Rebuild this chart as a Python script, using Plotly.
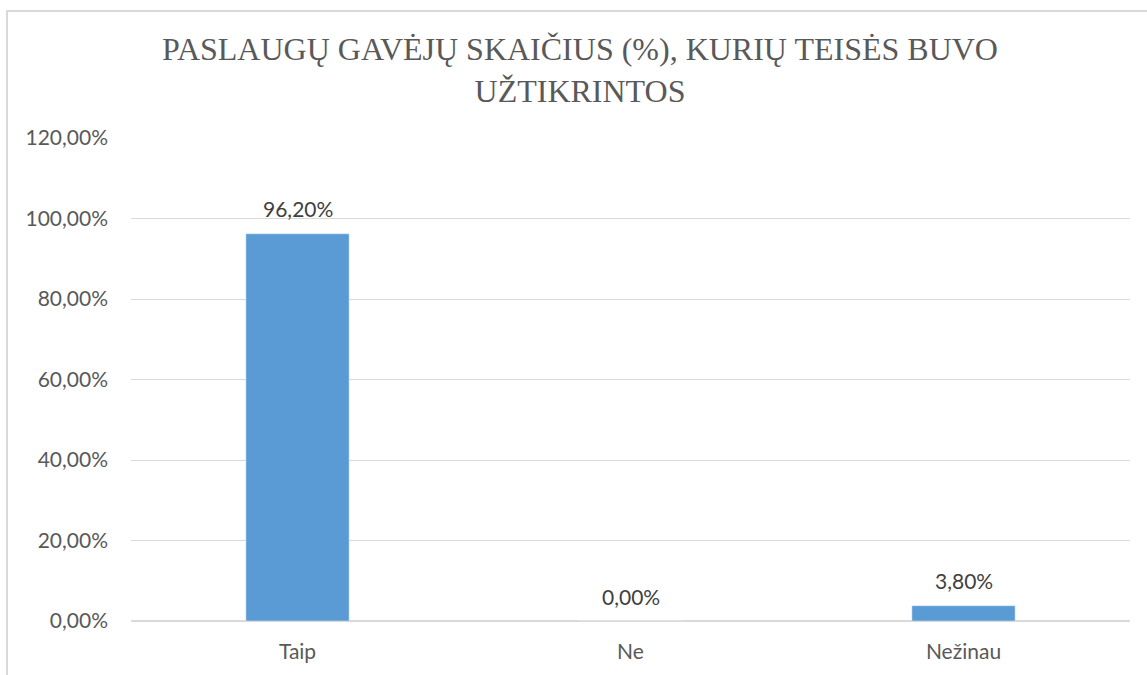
import plotly.graph_objects as go

categories = ["Taip", "Ne", "Nežinau"]
values = [0.962, 0.0, 0.038]
title_text = "PASLAUGŲ GAVĖJŲ SKAIČIUS (%), KURIŲ TEISĖS BUVO<br>UŽTIKRINTOS"

W, H = 1147, 675
L, R, T, B = 131, 17, 138, 54
pw, ph = W - L - R, H - T - B
SANS = "Lato, Open Sans, Liberation Sans, sans-serif"

fig = go.Figure()
fig.add_trace(go.Bar(
    x=categories, y=values,
    marker=dict(color="#5B9BD5"),
    hoverinfo="skip",
))

for c, v in zip(categories, values):
    fig.add_annotation(x=c, y=v, xref="x", yref="y", text=f"{v * 100:.2f}%".replace(".", ","),
                       showarrow=False, yanchor="middle", yshift=25,
                       font=dict(family=SANS, size=21, color="#404040"))

fig.update_layout(
    width=W, height=H,
    margin=dict(l=L, r=R, t=T, b=B, pad=0),
    paper_bgcolor="white", plot_bgcolor="white",
    separators=", ",
    bargap=0.69,
    showlegend=False,
    title=dict(text=title_text, x=580 / W, xanchor="center", y=1 - 60 / H, yanchor="top",
               font=dict(family="Liberation Serif, Times New Roman, serif", size=32, color="#595959")),
    xaxis=dict(showgrid=False, showline=False, ticks="", ticklabelstandoff=16,
               tickfont=dict(family=SANS, size=21, color="#595959")),
    yaxis=dict(range=[0, 1.2], dtick=0.2, tickformat=".2%", showgrid=True, gridcolor="#D9D9D9",
               gridwidth=1, zeroline=True, zerolinecolor="#D9D9D9", zerolinewidth=1.5, showline=False,
               ticks="", ticklabelstandoff=22,
               tickfont=dict(family=SANS, size=21, color="#595959")),
    shapes=[dict(type="rect", xref="paper", yref="paper",
                 x0=(7 - L) / pw, x1=(W + 20 - L) / pw,
                 y0=-(H + 20 - T - ph) / ph, y1=(H - 11 - B) / ph,
                 line=dict(color="#D9D9D9", width=2), fillcolor="rgba(0,0,0,0)", layer="below")],
)

fig.write_html("out.html", config={"displayModeBar": False},
               post_script="document.body.style.margin='0';document.body.style.overflow='hidden';")
